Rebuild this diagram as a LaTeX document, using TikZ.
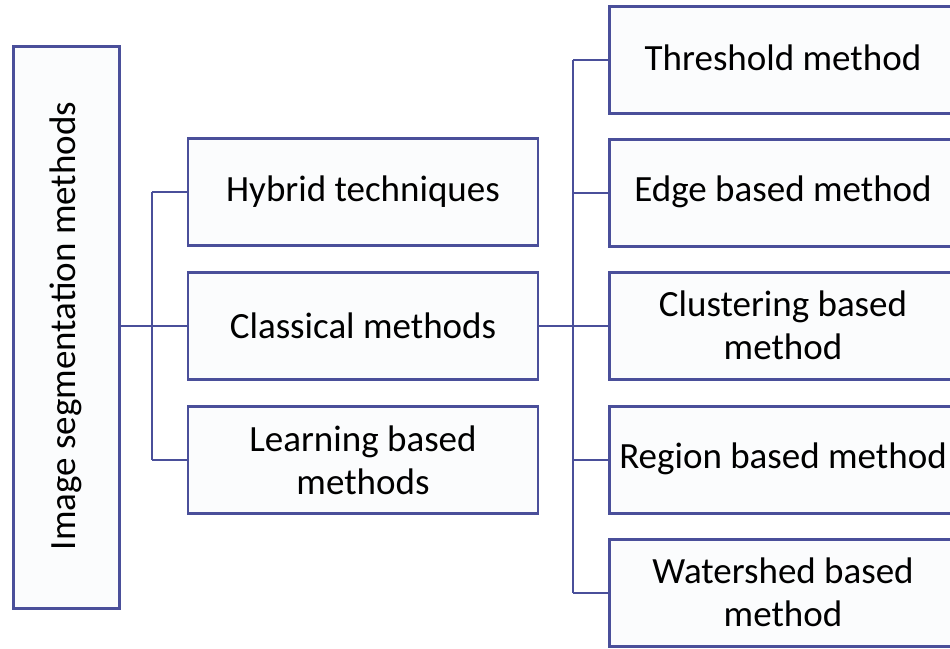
\documentclass[tikz,border=0pt]{standalone}
\usepackage{fontspec}
\setmainfont{Carlito}
\begin{document}
\begin{tikzpicture}[x=1pt,y=-1pt,
  line width=2.6pt,
  boxcol/.style={draw=frame, fill=boxfill},
  catbox/.style={boxcol, minimum width=350pt, minimum height=107pt, inner sep=0pt,
    align=center, font=\fontsize{37}{43}\selectfont},
  link/.style={draw=frame, line width=2.6pt},
]
\definecolor{frame}{HTML}{4A4F9A}
\definecolor{boxfill}{HTML}{FBFCFD}
\useasboundingbox (0,0) rectangle (950,648);
\begin{scope}
\clip (0,0) rectangle (950,648);

% root box
\node[boxcol, minimum width=106pt, minimum height=562pt, inner sep=0pt, anchor=north west]
  (root) at (12,45) {};
\node[rotate=90, font=\fontsize{37}{43}\selectfont] (roottext) at (66,326) {Image segmentation methods};

% second level
\node[catbox] (hyb) at (363,192) {Hybrid techniques};
\node[catbox] (cla) at (363,326) {Classical methods};
\node[catbox] (lea) at (363,460) {Learning based\\methods};

% classical families
\node[catbox, anchor=west] (thr) at (608,60) {};
\node[catbox, anchor=west] (edg) at (608,193) {};
\node[catbox, anchor=west] (clu) at (608,326) {};
\node[catbox, anchor=west] (reg) at (608,460) {};
\node[catbox, anchor=west] (wat) at (608,593) {};

\node[font=\fontsize{37}{43}\selectfont] (thrt) at (783,58) {Threshold method};
\node[font=\fontsize{37}{43}\selectfont] (edgt) at (783,192) {Edge based method};
\node[font=\fontsize{37}{43}\selectfont, align=center] (clut) at (783,325) {Clustering based\\method};
\node[font=\fontsize{37}{43}\selectfont] (regt) at (783,459) {Region based method};
\node[font=\fontsize{37}{43}\selectfont, align=center] (watt) at (783,592) {Watershed based\\method};

% connectors: root to second level
\coordinate (lbus) at (152,326);
\draw[link] (root.east |- lbus) -- (cla.west);
\draw[link] (lbus |- hyb.west) -- (lbus |- lea.west);
\draw[link] (lbus |- hyb.west) -- (hyb.west);
\draw[link] (lbus |- lea.west) -- (lea.west);

% connectors: classical methods to families
\coordinate (rbus) at (573,326);
\draw[link] (cla.east) -- (clu.west);
\draw[link] (rbus |- thr.west) -- (rbus |- wat.west);
\draw[link] (rbus |- thr.west) -- (thr.west);
\draw[link] (rbus |- edg.west) -- (edg.west);
\draw[link] (rbus |- reg.west) -- (reg.west);
\draw[link] (rbus |- wat.west) -- (wat.west);
\end{scope}
\end{tikzpicture}
\end{document}
